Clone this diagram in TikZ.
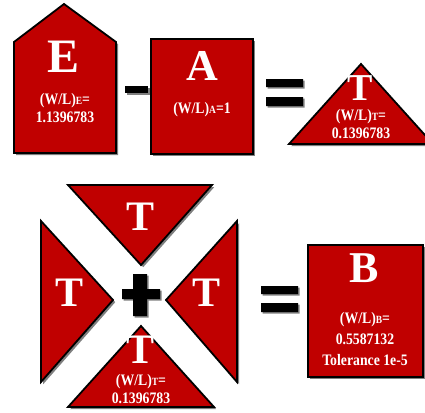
\documentclass[tikz,border=0pt]{standalone}
\usepackage{fontspec}
\setmainfont{Liberation Serif}
\newfontfamily\narrowserif[FakeStretch=0.86]{Liberation Serif}
\usepackage{tikz}
\usetikzlibrary{positioning}
\definecolor{tilered}  {HTML}{C00000}
\definecolor{ink}      {HTML}{000000}
\definecolor{shadowgry}{HTML}{7F7F7F}
\newcommand{\wlsub}[1]{(W/L){\fontsize{11}{11}\selectfont #1}=}
\tikzset{
  tile/.style={draw=ink,fill=tilered,line width=1.8pt,line join=miter},
  tileshadow/.style={fill=shadowgry,shift={(2.2,2.2)}},
  bigletter/.style={text=white,font=\fontsize{#1}{#1}\selectfont\bfseries,inner sep=0pt},
  valtext/.style={text=white,font=\narrowserif\fontsize{16}{18.5}\selectfont\bfseries,inner sep=0pt,align=center},
  opbar/.style={fill=ink}
}
\begin{document}
\begin{tikzpicture}[x=1pt,y=-1pt]
    \useasboundingbox (0,0) rectangle (425,412);
    \clip (0,0) rectangle (425,412);
    % top row: E - A = T
    \fill[tileshadow] (14,42) -- (64,4) -- (116,42) -- (116,153) -- (14,153) -- cycle;
    \draw[tile] (14,42) -- (64,4) -- (116,42) -- (116,153) -- (14,153) -- cycle;
    \node[bigletter=48] (eletter) at (64,57) {E};
    \node[valtext] (evalue) at (65,108) {\wlsub{E}\\1.1396783};
    \fill[shadowgry] (126.5,87.5) rectangle (149.5,94.5);
    \fill[opbar] (125,86) rectangle (148,93);
    \fill[tileshadow] (151,39) rectangle (253,154);
    \draw[tile] (151,39) rectangle (253,154);
    \node[bigletter=44] (aletter) at (202,66) {A};
    \node[valtext] (avalue) at (202,110) {(W/L){\fontsize{11}{11}\selectfont A}=1};
    \fill[shadowgry] (267.5,80.5) rectangle (304.5,88.5) (267.5,98.5) rectangle (304.5,107.5);
    \fill[opbar] (266,79) rectangle (303,87) (266,97) rectangle (303,106);
    \fill[tileshadow] (289,144) -- (361,64) -- (433,144) -- cycle;
    \draw[tile] (289,144) -- (361,64) -- (433,144) -- cycle;
    \node[bigletter=38] (tletter) at (360,88) {T};
    \node[valtext] (tvalue) at (361,124) {\wlsub{T}\\0.1396783};
    % bottom row: four T tiles + = B
    \fill[tileshadow] (68,185) -- (212,185) -- (141,265) -- cycle;
    \draw[tile] (68,185) -- (212,185) -- (141,265) -- cycle;
    \node[bigletter=42] (ttop) at (141,217) {T};
    \fill[tileshadow] (41,221) -- (113,300) -- (41,382) -- cycle;
    \draw[tile] (41,221) -- (113,300) -- (41,382) -- cycle;
    \node[bigletter=42] (tleft) at (70,293) {T};
    \fill[tileshadow] (237,221) -- (166,300) -- (237,382) -- cycle;
    \draw[tile] (237,221) -- (166,300) -- (237,382) -- cycle;
    \node[bigletter=42] (tright) at (207,293) {T};
    \fill[tileshadow] (68,407) -- (141,326) -- (214,407) -- cycle;
    \draw[tile] (68,407) -- (141,326) -- (214,407) -- cycle;
    \node[bigletter=42] (tbottom) at (141,350) {T};
    \node[valtext] (tbvalue) at (141,389) {\wlsub{T}\\0.1396783};
    \fill[shadowgry] (134.5,275.5) rectangle (148.5,317.5) (123.5,290.5) rectangle (161.5,300.5);
    \fill[opbar] (133,274) rectangle (147,316) (122,289) rectangle (160,299);
    \fill[shadowgry] (262.5,287.5) rectangle (299.5,295.5) (262.5,304.5) rectangle (299.5,313.5);
    \fill[opbar] (261,286) rectangle (298,294) (261,303) rectangle (298,312);
    \fill[tileshadow] (308,245) rectangle (423,377);
    \draw[tile] (308,245) rectangle (423,377);
    \node[bigletter=44] (bletter) at (364,268) {B};
    \node[valtext,font=\narrowserif\fontsize{16}{21}\selectfont\bfseries] (bvalue) at (365,339) {\wlsub{B}\\0.5587132\\Tolerance 1e-5};
\end{tikzpicture}
\end{document}
